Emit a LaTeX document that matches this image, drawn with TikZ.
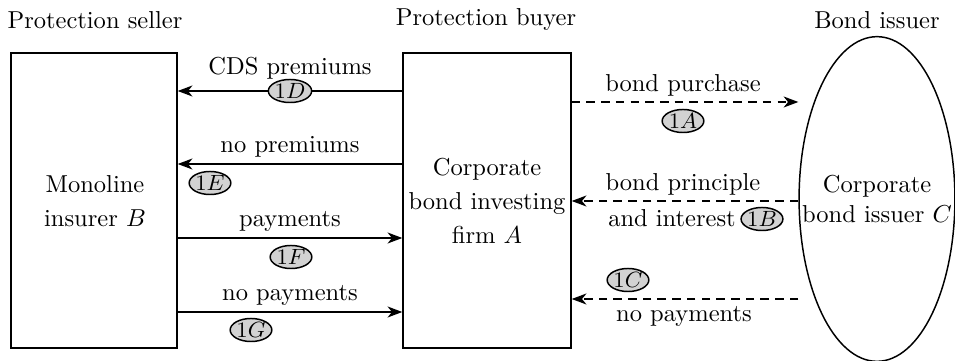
\documentclass[tikz,border=0pt]{standalone}
\usetikzlibrary{arrows.meta,shapes.geometric,fit}
\begin{document}
\begin{tikzpicture}[x=0.01435cm,y=-0.01435cm,
  every path/.style={line width=0.6pt},
  arr/.style={-{Stealth[length=6pt,width=4.5pt,inset=1.8pt]}},
  dsh/.style={dash pattern=on 3.5pt off 2.5pt},
  bub/.style={ellipse,draw,fill=gray!35,inner sep=0pt,minimum height=9.4pt,minimum width=17pt,font=\small}]
\useasboundingbox (0,0) rectangle (955,361);
% titles
\node (t1) at (95,20) {Protection seller};
\node (t2) at (486,20) {Protection buyer};
\node (t3) at (877,20) {Bond issuer};
% boxes
\node[draw,fit={(11,53) (177,348)},inner sep=0pt] (sel) {};
\node[draw,fit={(403,53) (571,348)},inner sep=0pt] (buy) {};
\node[draw,ellipse,minimum width=63.6pt,minimum height=132.5pt,inner sep=0pt] (iss) at (877,199) {};
\node[align=center] (isst) at (877,199) {Corporate\\bond issuer $C$};
\node[align=center] (selt) at (95,201) {Monoline\\[2pt]insurer $B$};
\node[align=center] (buyt) at (487,201) {Corporate\\[2pt]bond investing\\[2pt]firm $A$};
% y levels
\coordinate (y1) at (0,91);
\coordinate (y2) at (0,164);
\coordinate (y3) at (0,238);
\coordinate (y4) at (0,312);
\coordinate (y5) at (0,102);
\coordinate (y6) at (0,201);
\coordinate (y7) at (0,299);
% left arrows
\draw[arr] (buy.west |- y1) -- (sel.east |- y1);
\draw[arr] (buy.west |- y2) -- (sel.east |- y2);
\draw[arr] (sel.east |- y3) -- (buy.west |- y3);
\draw[arr] (sel.east |- y4) -- (buy.west |- y4);
% right arrows
\draw[arr,dsh] (buy.east |- y5) -- (iss.west |- y5);
\draw[arr,dsh] (iss.west |- y6) -- (buy.east |- y6);
\draw[arr,dsh] (iss.west |- y7) -- (buy.east |- y7);
% labels
\node (l1) at (290,68) {CDS premiums};
\node[bub] (b1) at (290,91) {$1D$};
\node (l2) at (290,147) {no premiums};
\node[bub] (b2) at (210,183) {$1E$};
\node (l3) at (290,221) {payments};
\node[bub] (b3) at (291,257) {$1F$};
\node (l4) at (290,295) {no payments};
\node[bub] (b4) at (251,330) {$1G$};
\node (l5) at (683,85) {bond purchase};
\node[bub] (b5) at (683,121) {$1A$};
\node (l6) at (683,184) {bond principle};
\node (l7) at (672,218) {and interest};
\node[bub] (b6) at (762,219) {$1B$};
\node[bub] (b7) at (628,280) {$1C$};
\node (l8) at (684,316) {no payments};
\end{tikzpicture}
\end{document}
